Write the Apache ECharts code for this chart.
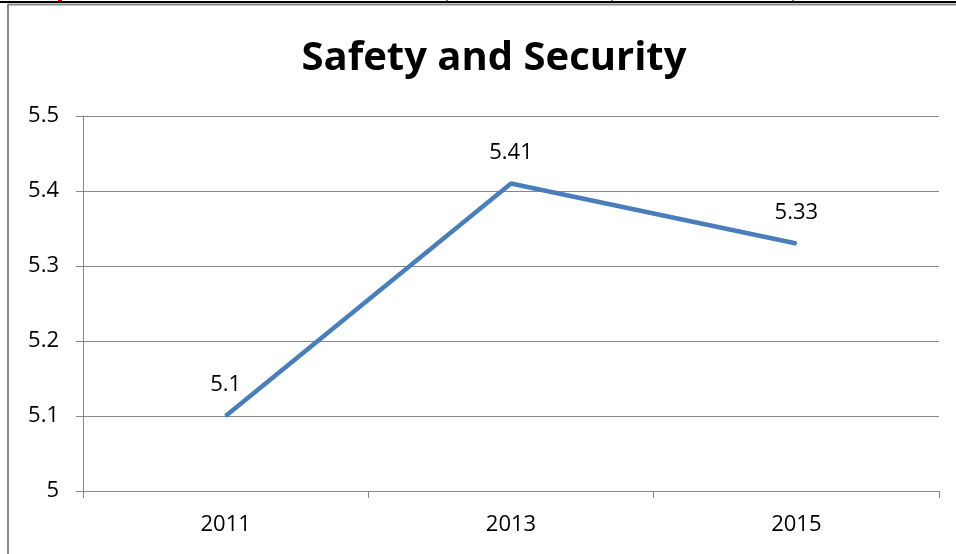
<!DOCTYPE html>
<html>
<head>
<meta charset="utf-8">
<script src="https://cdn.jsdelivr.net/npm/echarts@6/dist/echarts.min.js"></script>
<style>
html,body{margin:0;padding:0;background:#fff;}
#chart{width:956px;height:554px;}
</style>
</head>
<body>
<div id="chart"></div>
<script>
var titleText = "Safety and Security";
var categories = ["2011", "2013", "2015"];
var values = [5.1, 5.41, 5.33];
var yMin = 5, yMax = 5.5, yStep = 0.1;

var chart = echarts.init(document.getElementById('chart'));
var font = "Open Sans";
chart.setOption({
  animation: false,
  backgroundColor: '#fff',
  title: {
    text: titleText,
    left: 489, top: 34, textAlign: 'center',
    textStyle: {fontFamily: font, fontWeight: 'bold', fontSize: 40, color: '#000'}
  },
  grid: {left: 83, right: 17, top: 116, bottom: 63},
  xAxis: {
    type: 'category',
    data: categories,
    boundaryGap: true,
    axisLine: {lineStyle: {color: '#868686', width: 1}},
    axisTick: {show: true, length: 7, lineStyle: {color: '#868686'}},
    axisLabel: {fontFamily: font, fontSize: 22, color: '#000', margin: 23}
  },
  yAxis: {
    type: 'value',
    min: yMin, max: yMax, interval: yStep,
    axisLine: {show: true, lineStyle: {color: '#868686', width: 1}},
    axisTick: {show: true, length: 7, lineStyle: {color: '#868686'}},
    splitLine: {show: true, lineStyle: {color: '#868686', width: 1}},
    axisLabel: {fontFamily: font, fontSize: 22, color: '#000', margin: 24,
      formatter: function(v){ return String(Math.round(v*10)/10); }}
  },
  series: [{
    type: 'line',
    data: values,
    symbol: 'circle',
    symbolSize: 2,
    showSymbol: true,
    itemStyle: {color: '#4A7EBB'},
    lineStyle: {color: '#4A7EBB', width: 4.5},
    label: {show: true, position: 'top', distance: 19,
      fontFamily: font, fontSize: 22, color: '#000',
      formatter: function(p){ return String(p.value); }}
  }],
  graphic: [
    {type: 'line', shape: {x1: 0, y1: 2, x2: 956, y2: 2}, style: {stroke: '#000', lineWidth: 2}},
    {type: 'line', shape: {x1: 8, y1: 4.5, x2: 956, y2: 4.5}, style: {stroke: '#888', lineWidth: 2}},
    {type: 'line', shape: {x1: 8, y1: 4, x2: 8, y2: 554}, style: {stroke: '#888', lineWidth: 2}},
    {type: 'line', shape: {x1: 447, y1: 0, x2: 447, y2: 3}, style: {stroke: '#000', lineWidth: 1}},
    {type: 'line', shape: {x1: 612, y1: 0, x2: 612, y2: 3}, style: {stroke: '#000', lineWidth: 1}},
    {type: 'line', shape: {x1: 793, y1: 0, x2: 793, y2: 3}, style: {stroke: '#000', lineWidth: 1}},
    {type: 'rect', shape: {x: 58, y: 0, width: 4, height: 1}, style: {fill: '#e00000'}}
  ]
});
</script>
</body>
</html>
